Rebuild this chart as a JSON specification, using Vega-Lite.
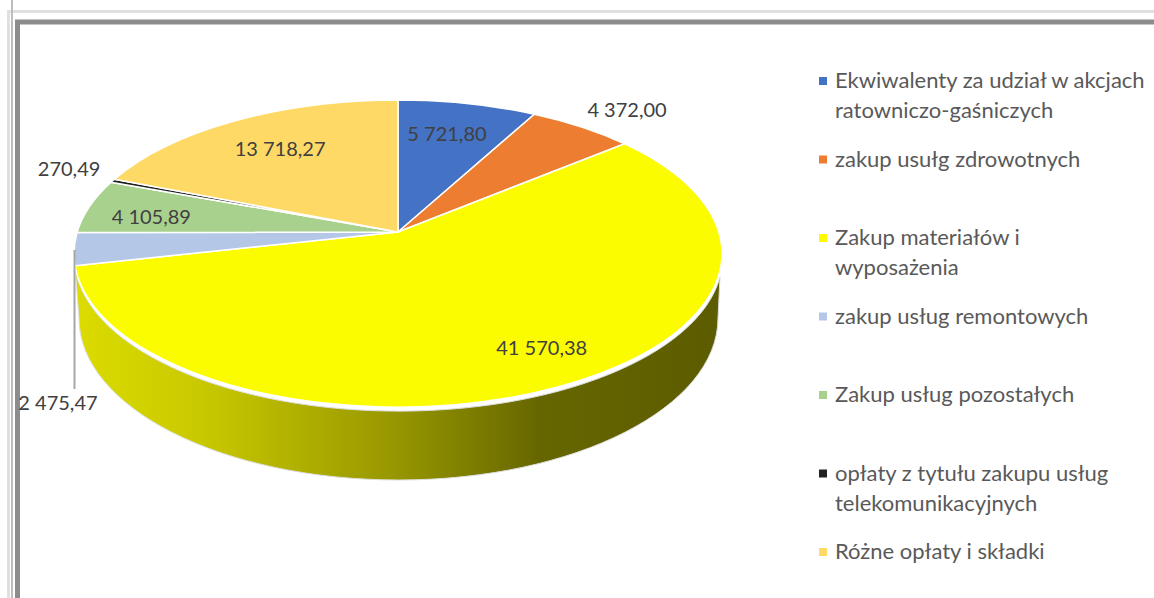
{
"$schema":"https://vega.github.io/schema/vega-lite/v6.json",
"width":1154,"height":598,"padding":0,"autosize":"none","background":"white",
"config":{"view":{"stroke":null},"style":{"guide-label":{"lineHeight":30}}},
"data":{"values":[
{"order":1,"category":"Ekwiwalenty za udział w akcjach ratowniczo-gaśniczych","value":5721.80,"label":"5 721,80"},
{"order":2,"category":"zakup usułg zdrowotnych","value":4372.00,"label":"4 372,00"},
{"order":3,"category":"Zakup materiałów i wyposażenia","value":41570.38,"label":"41 570,38"},
{"order":4,"category":"zakup usług remontowych","value":2475.47,"label":"2 475,47"},
{"order":5,"category":"Zakup usług pozostałych","value":4105.89,"label":"4 105,89"},
{"order":6,"category":"opłaty z tytułu zakupu usług telekomunikacyjnych","value":270.49,"label":"270,49"},
{"order":7,"category":"Różne opłaty i składki","value":13718.27,"label":"13 718,27"}
]},
"transform":[
{"window":[{"op":"sum","field":"value","as":"v1"}],"sort":[{"field":"order","order":"ascending"}],"frame":[null,0]},
{"joinaggregate":[{"op":"sum","field":"value","as":"total"}]},
{"calculate":"datum.v1-datum.value","as":"v0"},
{"calculate":"2*PI*datum.v0/datum.total","as":"a0"},
{"calculate":"2*PI*datum.v1/datum.total","as":"a1"},
{"calculate":"round(100*(-179+320.8*sin(datum.a0)/(1+0.14*cos(datum.a0))))/100","as":"x0"},
{"calculate":"round(100*(-67-150.5*cos(datum.a0)/(1+0.14*cos(datum.a0))))/100","as":"y0"},
{"calculate":"round(100*(-179+320.8*sin(datum.a1)/(1+0.14*cos(datum.a1))))/100","as":"x1"},
{"calculate":"round(100*(-67-150.5*cos(datum.a1)/(1+0.14*cos(datum.a1))))/100","as":"y1"},
{"calculate":"'M-179,-67L'+datum.x0+','+datum.y0+'A324,153.5,0,'+(datum.value/datum.total>0.5?1:0)+',1,'+datum.x1+','+datum.y1+'Z'","as":"slicePath"},
{"calculate":"'M'+datum.x1+','+datum.y1+'L-498,19A319.5,162,0,0,0,141,19L143,-22A324,153.5,0,0,1,'+datum.x1+','+datum.y1+'Z'","as":"wallPath"},
{"calculate":"(datum.a0+datum.a1)/2","as":"am"},
{"calculate":"{'1':0.704,'2':1.246,'3':0.89,'4':1.05,'5':0.80,'6':1.153,'7':0.73}[datum.order]","as":"fx"},
{"calculate":"{'1':0.755,'2':1.152,'3':0.757,'4':10.2,'5':0.55,'6':1.21,'7':0.735}[datum.order]","as":"fy"},
{"calculate":"-179+datum.fx*320.8*sin(datum.am)/(1+0.14*cos(datum.am))","as":"lx"},
{"calculate":"-67-datum.fy*150.5*cos(datum.am)/(1+0.14*cos(datum.am))","as":"ly"}
],
"layer":[
{"transform":[{"filter":"datum.order==1"}],"mark":{"type":"rect","fill":null,"stroke":"#e0e0e0","strokeWidth":3},"encoding":{"x":{"value":8.5},"y":{"value":11.5},"x2":{"value":1300},"y2":{"value":800}}},
{"transform":[{"filter":"datum.order==1"}],"mark":{"type":"rect","fill":null,"stroke":"#bdbdbd","strokeWidth":2},"encoding":{"x":{"value":12},"y":{"value":-10},"x2":{"value":1300},"y2":{"value":800}}},
{"transform":[{"filter":"datum.order==1"}],"mark":{"type":"rect","fill":null,"stroke":"#8c8c8c","strokeWidth":5},"encoding":{"x":{"value":17.5},"y":{"value":22},"x2":{"value":1300},"y2":{"value":800}}},
{"transform":[{"filter":"datum.order==3"}],
 "mark":{"type":"point","filled":true,"size":4,"opacity":1,"stroke":"#dddddd","strokeWidth":1,
  "fill":{"gradient":"linear","x1":0,"x2":1,"y1":0,"y2":0,"stops":[{"offset":0,"color":"#dcdc00"},{"offset":0.2,"color":"#c8c800"},{"offset":0.5,"color":"#969600"},{"offset":0.72,"color":"#666600"},{"offset":1,"color":"#5c5c00"}]}},
 "encoding":{"shape":{"field":"wallPath","type":"nominal","scale":null}}},
{"mark":{"type":"point","filled":true,"size":4,"opacity":1,"stroke":"white","strokeWidth":1.5},
 "encoding":{
  "shape":{"field":"slicePath","type":"nominal","scale":null},
  "color":{"field":"category","type":"nominal","sort":null,
   "scale":{"domain":["Ekwiwalenty za udział w akcjach ratowniczo-gaśniczych","zakup usułg zdrowotnych","Zakup materiałów i wyposażenia","zakup usług remontowych","Zakup usług pozostałych","opłaty z tytułu zakupu usług telekomunikacyjnych","Różne opłaty i składki"],
    "range":["#4472c4","#ed7d31","#fcfc00","#b4c7e7","#a9d18e","#222222","#ffd966"]},
   "legend":{"orient":"none","legendX":812,"legendY":70,"title":null,"symbolType":"square","symbolSize":64,"symbolStrokeWidth":0,"symbolOpacity":1,
    "labelFont":"Lato","labelFontSize":22,"labelColor":"#595959","labelLimit":0,"labelOffset":1,"rowPadding":26.5,
    "labelExpr":"test(/akcjach|materiałów|telekom/,datum.label)?split(replace(replace(replace(datum.label,'akcjach ','akcjach|'),'materiałów i ','materiałów i|'),'zakupu usług ','zakupu usług|'),'|'):[datum.label,' ']"}}
 }},
{"transform":[{"filter":"datum.order==4"}],
 "mark":{"type":"point","filled":false,"size":4,"opacity":1,"stroke":"#a6a6a6","strokeWidth":2},
 "encoding":{"shape":{"value":"M-502.5,-49L-502.5,90"}}},
{"mark":{"type":"text","font":"Lato","fontSize":20,"color":"#404040","align":"center","baseline":"middle"},
 "encoding":{
  "x":{"field":"lx","type":"quantitative","scale":{"domain":[-577,577],"nice":false,"zero":false},"axis":null},
  "y":{"field":"ly","type":"quantitative","scale":{"domain":[299,-299],"nice":false,"zero":false},"axis":null},
  "text":{"field":"label","type":"nominal"}}}
]
}
